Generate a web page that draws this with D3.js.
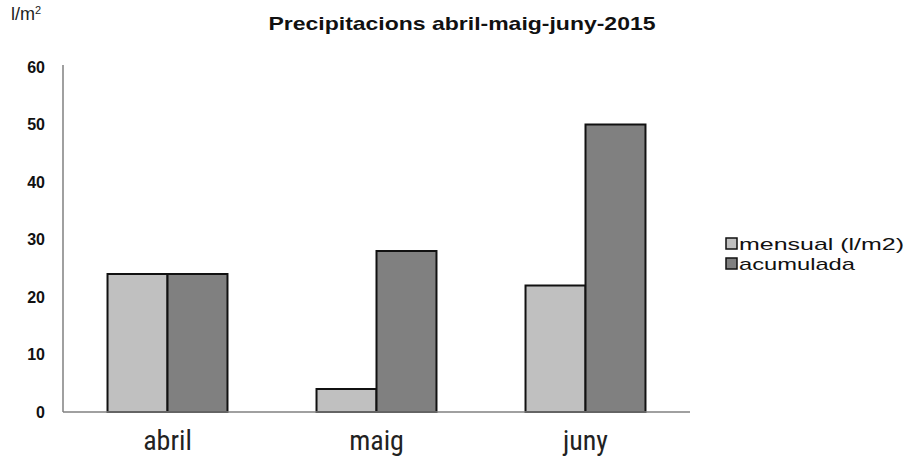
<!DOCTYPE html>
<html><head><meta charset="utf-8">
<script src="https://cdn.jsdelivr.net/npm/d3@7"></script>
<style>body{margin:0;background:#fff}</style>
</head><body>
<svg id="c" width="916" height="459"></svg>
<script>
const categories = ["abril", "maig", "juny"];
const seriesNames = ["mensual (l/m2)", "acumulada"];
const mensual = [24, 4, 22];
const acumulada = [24, 28, 50];
const yTicks = [0, 10, 20, 30, 40, 50, 60];
const colors = ["#c0c0c0", "#808080"];

const svg = d3.select("#c");
const mLeft = 63, mRight = 690, mTop = 67, mBottom = 412;
const x = d3.scaleBand().domain(categories).range([mLeft, mRight]).paddingInner(0.426).paddingOuter(0.213);
const x1 = d3.scaleBand().domain(seriesNames).range([0, x.bandwidth()]);
const y = d3.scaleLinear().domain([0, 60]).range([mBottom, mTop]);

const data = categories.map((c, i) => ({c, vals: [mensual[i], acumulada[i]]}));

// bars
const g = svg.append("g");
data.forEach(d => {
  d.vals.forEach((v, j) => {
    g.append("rect")
      .attr("x", x(d.c) + x1(seriesNames[j]))
      .attr("y", y(v))
      .attr("width", x1.bandwidth())
      .attr("height", y(0) - y(v))
      .attr("fill", colors[j])
      .attr("stroke", "#111")
      .attr("stroke-width", 2);
  });
});

// y axis
const ya = svg.append("g").attr("transform", `translate(${mLeft},0)`)
  .call(d3.axisLeft(y).tickValues(yTicks).tickSize(0).tickPadding(18));
ya.select(".domain").attr("stroke", "#808080").attr("stroke-width", 1.5).attr("d", `M0,${mTop - 2}V${mBottom}`);
ya.selectAll("text").attr("font-family", "Liberation Sans, Arial, sans-serif").attr("font-weight", "bold").attr("font-size", 16).attr("fill", "#111");

// x axis
const xa = svg.append("g").attr("transform", `translate(0,${mBottom})`)
  .call(d3.axisBottom(x).tickSize(0));
xa.select(".domain").attr("stroke", "#808080").attr("stroke-width", 1.5).attr("d", `M${mLeft},0H${mRight}`);
xa.selectAll("text").attr("dy", null).attr("y", 38)
  .attr("font-family", "Liberation Sans Narrow, Roboto Condensed, Arial Narrow, sans-serif")
  .attr("font-stretch", "condensed").attr("font-size", 28).attr("fill", "#222");

// title
svg.append("text").attr("x", 462).attr("y", 30).attr("text-anchor", "middle")
  .attr("font-family", "Liberation Sans, Arial, sans-serif").attr("font-weight", "bold").attr("font-size", 19)
  .attr("textLength", 387).attr("lengthAdjust", "spacingAndGlyphs")
  .attr("fill", "#111").text("Precipitacions abril-maig-juny-2015");

// unit label
const u = svg.append("text").attr("x", 11).attr("y", 20)
  .attr("font-family", "Liberation Sans Narrow, Arial Narrow, sans-serif").attr("font-stretch", "condensed")
  .attr("font-size", 18).attr("fill", "#222");
u.append("tspan").text("l/m");
u.append("tspan").attr("font-size", 11).attr("dy", -6).text("2");

// legend
const lg = svg.append("g");
const legW = [165, 116];
seriesNames.forEach((s, i) => {
  const yy = 244 + i * 20;
  lg.append("rect").attr("x", 726).attr("y", yy - 6).attr("width", 11).attr("height", 11)
    .attr("fill", colors[i]).attr("stroke", "#111").attr("stroke-width", 1.5);
  lg.append("text").attr("x", 739).attr("y", yy + 6)
    .attr("font-family", "Liberation Sans, Arial, sans-serif").attr("font-size", 17).attr("fill", "#111")
    .attr("textLength", legW[i]).attr("lengthAdjust", "spacingAndGlyphs")
    .text(s);
});
</script>
</body></html>
